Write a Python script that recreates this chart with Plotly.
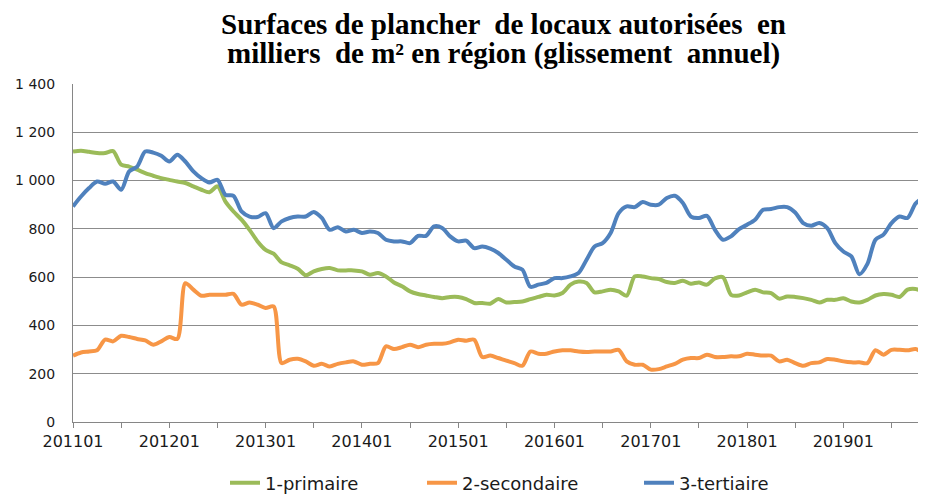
import plotly.graph_objects as go

# Monthly categories 201101 .. 201912
months = [f"{y}{m:02d}" for y in range(2011, 2020) for m in range(1, 13)]

primaire = [1120, 1124, 1119, 1114, 1114, 1122, 1066, 1058, 1045, 1031, 1020, 1010,
            1003, 996, 990, 976, 962, 952, 976, 913, 872, 838, 796, 748,
            713, 697, 661, 649, 635, 608, 624, 634, 638, 628, 628, 628,
            624, 610, 617, 603, 578, 562, 541, 530, 524, 518, 513, 518,
            518, 509, 493, 493, 490, 509, 495, 497, 499, 509, 518, 527,
            524, 534, 569, 582, 576, 537, 541, 548, 541, 523, 603, 603,
            596, 592, 580, 576, 585, 573, 578, 569, 595, 600, 527, 524,
            537, 548, 537, 534, 511, 520, 518, 513, 506, 495, 506, 506,
            513, 499, 495, 506, 524, 530, 527, 518, 548, 551, 541, 545]

secondaire = [275, 288, 292, 297, 341, 334, 357, 352, 344, 338, 320, 334,
              352, 344, 575, 548, 523, 527, 527, 527, 531, 486, 495, 486,
              472, 479, 244, 258, 262, 251, 233, 241, 230, 241, 247, 251,
              237, 241, 244, 313, 302, 310, 320, 310, 320, 324, 324, 330,
              341, 337, 341, 269, 275, 265, 254, 244, 233, 292, 283, 283,
              292, 297, 297, 292, 290, 292, 292, 292, 299, 251, 237, 237,
              217, 219, 230, 241, 258, 265, 265, 279, 269, 269, 272, 272,
              283, 279, 275, 275, 251, 258, 244, 233, 244, 247, 261, 258,
              251, 247, 247, 244, 297, 279, 299, 299, 297, 302, 288, 290]

tertiaire = [893, 934, 969, 996, 987, 996, 962, 1038, 1058, 1120, 1116, 1103,
             1079, 1107, 1079, 1038, 1010, 992, 1003, 941, 937, 872, 851, 849,
             865, 803, 831, 845, 851, 851, 870, 845, 796, 807, 789, 796,
             783, 789, 783, 755, 748, 748, 741, 771, 771, 810, 804, 769,
             748, 751, 720, 727, 718, 700, 672, 644, 631, 560, 569, 576,
             596, 596, 603, 617, 672, 727, 741, 783, 865, 893, 890, 911,
             900, 900, 928, 937, 907, 851, 845, 854, 796, 755, 769, 799,
             817, 838, 879, 882, 890, 890, 868, 824, 813, 824, 803, 741,
             706, 686, 612, 655, 755, 776, 824, 851, 845, 905, 932, 962]

series_names = ["1-primaire", "2-secondaire", "3-tertiaire"]
series_colors = ["#9BBB59", "#F79646", "#4F81BD"]

y_ticks = [0, 200, 400, 600, 800, 1000, 1200, 1400]
y_tick_labels = ["0", "200", "400", "600", "800", "1 000", "1 200", "1 400"]

title_lines = ["<b>Surfaces de plancher  de locaux autorisées  en</b>",
               "<b>milliers  de m² en région (glissement  annuel)</b>"]

n = len(primaire)
xs = list(range(n))
cats = months[:n]

# The page body adds an 8 px margin; layout below is expressed in figure pixels
OFF = 8
L, T, B_PAGE = 73 - OFF, 84 - OFF, 422 - OFF  # plot left/top/bottom in figure px
PLOT_H = B_PAGE - T

legend_ids = ["legend", "legend2", "legend3"]
legend_text_x_page = [265, 462, 679]

fig = go.Figure()
for name, vals, col, lid in zip(series_names, [primaire, secondaire, tertiaire],
                                series_colors, legend_ids):
    fig.add_trace(go.Scatter(
        x=xs, y=vals, name=name, mode="lines", legend=lid,
        line=dict(color=col, width=4, shape="spline", smoothing=0.8),
        customdata=cats, hovertemplate="%{customdata}: %{y}<extra>" + name + "</extra>",
    ))

tickvals = list(range(0, n, 6))
ticktext = [cats[i] if i % 12 == 0 else "" for i in tickvals]

title_y_fig = [16, 45]
annotations = [dict(
    text=t, xref="paper", yref="paper",
    x=(504 - OFF - L) / 853, y=(B_PAGE - ypx) / PLOT_H, xanchor="center", yanchor="middle",
    showarrow=False, font=dict(family="Liberation Serif", size=29, color="black"),
) for t, ypx in zip(title_lines, title_y_fig)]

legend_common = dict(
    orientation="h", xref="container", yref="container",
    xanchor="left", y=1 - (483 - OFF) / 494, yanchor="middle",
    font=dict(family="DejaVu Sans", size=18, color="#1a1a1a"),
    bgcolor="rgba(0,0,0,0)",
)
legends = {}
for lid, tx in zip(legend_ids, legend_text_x_page):
    legends[lid] = dict(legend_common, x=(tx - 40 - OFF) / 926)

fig.update_layout(
    width=926, height=494,
    margin=dict(l=L, r=926 - L - 853, t=T, b=494 - B_PAGE, autoexpand=False),
    paper_bgcolor="white", plot_bgcolor="white",
    annotations=annotations,
    xaxis=dict(
        range=[0, 106.3], showgrid=False, zeroline=False, automargin=False,
        showline=True, linecolor="#868686", linewidth=1,
        tickmode="array", tickvals=tickvals, ticktext=ticktext,
        ticks="outside", ticklen=5, tickcolor="#868686",
        tickfont=dict(family="DejaVu Sans", size=16, color="#1a1a1a"),
    ),
    yaxis=dict(
        range=[0, 1400], showgrid=True, gridcolor="#8c8c8c", gridwidth=1,
        zeroline=False, showline=True, linecolor="#868686", linewidth=1,
        automargin=False,
        tickmode="array", tickvals=y_ticks, ticktext=y_tick_labels,
        ticks="", ticklabelstandoff=14,
        tickfont=dict(family="DejaVu Sans", size=14, color="#1a1a1a"),
    ),
    showlegend=True,
    **legends,
)

fig.write_html("out.html")
